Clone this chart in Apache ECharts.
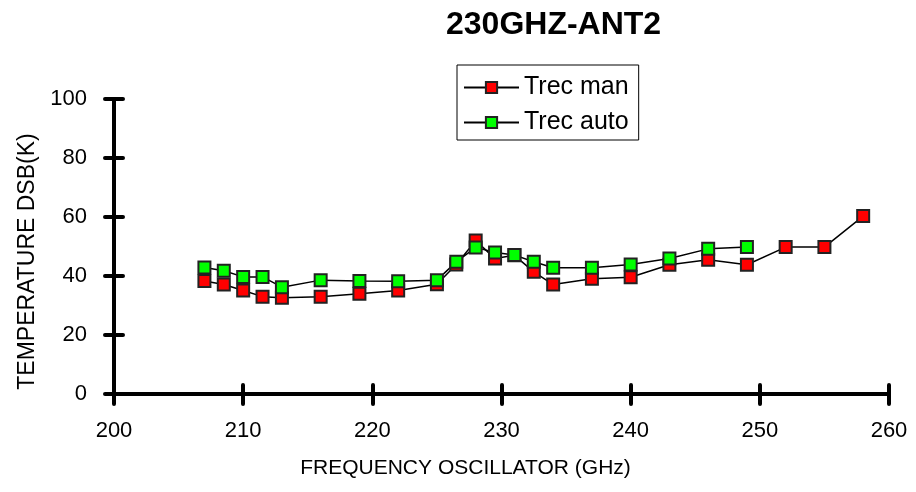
<!DOCTYPE html>
<html>
<head>
<meta charset="utf-8">
<script src="https://cdn.jsdelivr.net/npm/echarts@6/dist/echarts.min.js"></script>
<style>
  html, body { margin: 0; padding: 0; background: #fff; }
  #main { width: 916px; height: 492px; }
</style>
</head>
<body>
<div id="main"></div>
<script>
// frequency (GHz) for each measurement
let freqs = [207, 208.5, 210, 211.5, 213, 216, 219, 222, 225, 226.5, 228, 229.5, 231, 232.5, 234, 237, 240, 243, 246, 249, 252, 255, 258];
let trecMan = [38.3, 37.1, 35.1, 33.0, 32.6, 33.0, 34.0, 35.1, 37.2, 43.9, 52.0, 45.9, 47.0, 41.4, 37.1, 39.1, 39.6, 43.8, 45.5, 43.8, 49.8, 49.8, 60.3];
// auto values stop at 249 GHz
let trecAuto = [42.9, 41.8, 39.7, 39.7, 36.2, 38.6, 38.3, 38.2, 38.6, 44.8, 49.7, 48.0, 47.1, 44.8, 42.8, 42.8, 43.9, 45.9, 49.2, 49.8];
let xTicks = [200, 210, 220, 230, 240, 250, 260];
let yTicks = [0, 20, 40, 60, 80, 100];

function pairs(xs, ys) {
  let out = [];
  for (let i = 0; i < ys.length; i++) {
    out.push([xs[i], ys[i]]);
  }
  return out;
}

let font = "'Liberation Sans', Arial, sans-serif";
let gridBox = { left: 114, right: 27, top: 99, bottom: 98 };

let chart = echarts.init(document.getElementById("main"));
let option = {
  backgroundColor: "#fff",
  animation: false,
  title: {
    text: "230GHZ-ANT2",
    left: 441,
    top: 4,
    textStyle: { fontFamily: font, fontSize: 32, fontWeight: "bold", color: "#000" }
  },
  legend: {
    orient: "vertical",
    left: 457,
    top: 65,
    padding: [10, 10, 5, 6],
    itemGap: 10,
    itemWidth: 55,
    itemHeight: 14,
    borderColor: "#000",
    borderWidth: 1,
    backgroundColor: "#fff",
    textStyle: { fontFamily: font, fontSize: 25, color: "#000" },
    data: ["Trec man", "Trec auto"]
  },
  grid: [
    Object.assign({ containLabel: false }, gridBox),
    Object.assign({ containLabel: false }, gridBox)
  ],
  xAxis: [
    {
      type: "value",
      gridIndex: 0,
      min: xTicks[0],
      max: xTicks[xTicks.length - 1],
      interval: 10,
      name: "FREQUENCY OSCILLATOR (GHz)",
      nameLocation: "middle",
      nameGap: 64,
      nameTextStyle: { fontFamily: font, fontSize: 21, color: "#000", padding: [0, 72, 0, 0] },
      axisLine: { lineStyle: { color: "#000", width: 4 } },
      axisTick: { inside: false, length: 10, lineStyle: { color: "#000", width: 4, cap: "round" } },
      axisLabel: { fontFamily: font, fontSize: 22, color: "#000", margin: 26 },
      splitLine: { show: false }
    },
    {
      type: "value",
      gridIndex: 1,
      min: xTicks[0],
      max: xTicks[xTicks.length - 1],
      interval: 10,
      axisLine: { show: false },
      axisTick: { inside: true, length: 9, lineStyle: { color: "#000", width: 4, cap: "round" } },
      axisLabel: { show: false },
      splitLine: { show: false }
    }
  ],
  yAxis: [
    {
      type: "value",
      gridIndex: 0,
      min: yTicks[0],
      max: yTicks[yTicks.length - 1],
      interval: 20,
      name: "TEMPERATURE DSB(K)",
      nameLocation: "middle",
      nameGap: 74,
      nameTextStyle: { fontFamily: font, fontSize: 23, color: "#000", padding: [0, 30, 0, 0] },
      axisLine: { lineStyle: { color: "#000", width: 4 } },
      axisTick: { inside: false, length: 9, lineStyle: { color: "#000", width: 4, cap: "round" } },
      axisLabel: { fontFamily: font, fontSize: 22, color: "#000", margin: 27 },
      splitLine: { show: false }
    },
    {
      type: "value",
      gridIndex: 1,
      min: yTicks[0],
      max: yTicks[yTicks.length - 1],
      interval: 20,
      axisLine: { show: false },
      axisTick: { inside: true, length: 9, lineStyle: { color: "#000", width: 4, cap: "round" } },
      axisLabel: { show: false },
      splitLine: { show: false }
    }
  ],
  series: [
    {
      name: "Trec man",
      type: "line",
      xAxisIndex: 0,
      yAxisIndex: 0,
      data: pairs(freqs, trecMan),
      symbol: "rect",
      symbolSize: 12,
      lineStyle: { color: "#000", width: 1.5 },
      itemStyle: { color: "#ff0000", borderColor: "#222", borderWidth: 2 }
    },
    {
      name: "Trec auto",
      type: "line",
      xAxisIndex: 0,
      yAxisIndex: 0,
      data: pairs(freqs, trecAuto),
      symbol: "rect",
      symbolSize: 12,
      lineStyle: { color: "#000", width: 1.5 },
      itemStyle: { color: "#00ff00", borderColor: "#222", borderWidth: 2 }
    }
  ]
};
chart.setOption(option);
</script>
</body>
</html>
